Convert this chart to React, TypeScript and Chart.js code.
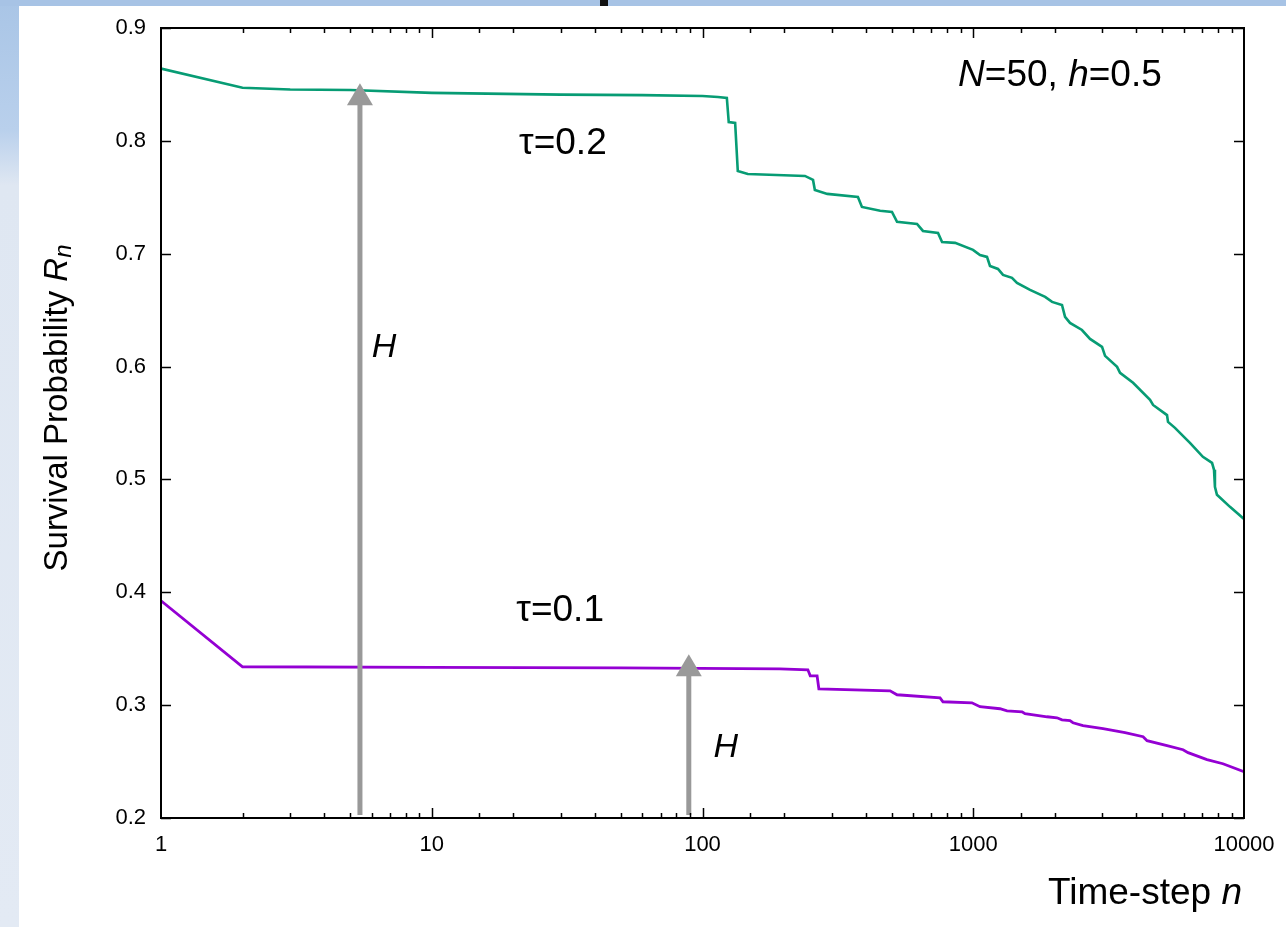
import React, { useEffect, useRef } from 'react';
import { Chart, registerables } from 'chart.js';
Chart.register(...registerables);

// ---- data ----
const tau02N = [1, 2, 3, 5, 10, 30, 60, 100, 114, 123, 125, 132, 135, 147, 239, 256, 260, 289, 375, 388, 453, 501, 523, 620, 652, 741, 767, 857, 998, 1059, 1124, 1153, 1234, 1288, 1390, 1451, 1621, 1843, 1955, 2127, 2183, 2277, 2521, 2700, 2990, 3068, 3398, 3485, 3893, 4497, 4614, 5196, 5240, 5560, 5800, 6315, 7050, 7620, 7750, 7810, 7945, 8875, 10000];
const tau02R = [0.864, 0.847, 0.8455, 0.845, 0.8425, 0.841, 0.8405, 0.8398, 0.8389, 0.838, 0.8167, 0.8159, 0.7733, 0.7707, 0.7689, 0.7654, 0.7565, 0.753, 0.7503, 0.7414, 0.738, 0.737, 0.7282, 0.7264, 0.7202, 0.7184, 0.7104, 0.7096, 0.7034, 0.6989, 0.6972, 0.6892, 0.6865, 0.6812, 0.6786, 0.6741, 0.6679, 0.6617, 0.6573, 0.6546, 0.644, 0.6387, 0.6324, 0.6245, 0.6174, 0.6095, 0.5997, 0.5944, 0.5856, 0.5705, 0.566, 0.557, 0.551, 0.5457, 0.5413, 0.5324, 0.52, 0.5147, 0.5085, 0.4934, 0.4864, 0.4757, 0.465];

const tau01N = [1, 2, 10, 50, 193, 245, 250, 265, 269, 493, 523, 754, 773, 989, 1059, 1255, 1333, 1515, 1553, 1873, 2038, 2127, 2277, 2335, 2543, 3016, 3636, 4240, 4385, 5196, 5955, 6215, 7300, 8360, 10000];
const tau01R = [0.3925, 0.334, 0.3335, 0.333, 0.3322, 0.3313, 0.326, 0.326, 0.3145, 0.3127, 0.3092, 0.3065, 0.303, 0.3021, 0.2986, 0.2968, 0.295, 0.2941, 0.2924, 0.2897, 0.2888, 0.287, 0.2862, 0.2844, 0.2818, 0.2791, 0.2756, 0.272, 0.2685, 0.2641, 0.2605, 0.2579, 0.2517, 0.2481, 0.241];

const xTickLabels = ['1', '10', '100', '1000', '10000'];
const yTickValues = [0.2, 0.3, 0.4, 0.5, 0.6, 0.7, 0.8, 0.9];

// arrows "H"
const arrowN = [5.43, 89];
const arrowTopR = [0.851, 0.345];
const arrowBaseR = 0.2;

// text annotations: [n, R] anchor (centre)
const tauLabels = ['τ=0.2', 'τ=0.1'];
const tauLabelN = [30.5, 29.8];
const tauLabelR = [0.797, 0.3836];
const hLabelN = [6.66, 122];
const hLabelR = [0.6166, 0.2623];
const paramN = 2090;
const paramR = 0.858;

const FONT = '"Liberation Sans", Arial, Helvetica, sans-serif';
const GREEN = '#079c74';
const PURPLE = '#9400d3';
const GRAY = '#999999';

type Seg = { t: string; it?: boolean; sc?: number; dy?: number };

function drawSegs(ctx: CanvasRenderingContext2D, segs: Seg[], size: number, cx: number, cy: number) {
  const fontFor = (s: Seg) => `${s.it ? 'italic ' : ''}${Math.round(size * (s.sc || 1))}px ${FONT}`;
  let total = 0;
  for (const s of segs) { ctx.font = fontFor(s); total += ctx.measureText(s.t).width; }
  let x = cx - total / 2;
  ctx.textBaseline = 'middle';
  ctx.textAlign = 'left';
  for (const s of segs) {
    ctx.font = fontFor(s);
    ctx.fillText(s.t, x, cy + (s.dy || 0));
    x += ctx.measureText(s.t).width;
  }
}

const overlay = {
  id: 'overlay',
  beforeDraw(chart: any) {
    const ctx = chart.ctx as CanvasRenderingContext2D;
    const W = chart.width, H = chart.height;
    ctx.save();
    const g = ctx.createLinearGradient(0, 0, 0, H);
    g.addColorStop(0, '#a9c5e6');
    g.addColorStop(0.14, '#b9d0ec');
    g.addColorStop(0.2, '#dfe7f2');
    g.addColorStop(1, '#e3eaf4');
    ctx.fillStyle = g;
    ctx.fillRect(0, 0, W, H);
    ctx.fillStyle = '#a7c3e5';
    ctx.fillRect(0, 0, W, 6);
    ctx.fillStyle = '#ffffff';
    ctx.fillRect(19, 6, W - 19, H - 6);
    ctx.fillStyle = '#111111';
    ctx.fillRect(600, 0, 8, 6);
    ctx.restore();
  },
  afterDatasetsDraw(chart: any) {
    const ctx = chart.ctx as CanvasRenderingContext2D;
    const xs = chart.scales.x, ys = chart.scales.y;
    const { left, right, top, bottom } = chart.chartArea;
    ctx.save();
    // arrows
    for (let i = 0; i < arrowN.length; i++) {
      const x = xs.getPixelForValue(arrowN[i]);
      const yTop = ys.getPixelForValue(arrowTopR[i]);
      const yBase = ys.getPixelForValue(arrowBaseR) - 3;
      const headH = 22, headW = 26;
      ctx.strokeStyle = GRAY;
      ctx.lineWidth = 5;
      ctx.beginPath();
      ctx.moveTo(x, yBase);
      ctx.lineTo(x, yTop + headH - 1);
      ctx.stroke();
      ctx.fillStyle = GRAY;
      ctx.beginPath();
      ctx.moveTo(x, yTop);
      ctx.lineTo(x - headW / 2, yTop + headH);
      ctx.lineTo(x + headW / 2, yTop + headH);
      ctx.closePath();
      ctx.fill();
    }
    // frame
    ctx.strokeStyle = '#000';
    ctx.lineWidth = 2;
    ctx.strokeRect(left, top, right - left, bottom - top);
    // ticks
    ctx.lineWidth = 1.5;
    ctx.beginPath();
    for (const t of xs.ticks) {
      const v = t.value;
      const lg = Math.log10(v);
      const major = Math.abs(lg - Math.round(lg)) < 1e-9;
      const len = major ? 10 : 5;
      const px = Math.round(xs.getPixelForValue(v)) + 0.5;
      if (px <= left + 1 || px >= right - 1) continue;
      ctx.moveTo(px, bottom);
      ctx.lineTo(px, bottom - len);
      ctx.moveTo(px, top);
      ctx.lineTo(px, top + len);
    }
    for (const v of yTickValues) {
      const py = Math.round(ys.getPixelForValue(v)) + 0.5;
      ctx.moveTo(left, py);
      ctx.lineTo(left + 10, py);
      ctx.moveTo(right, py);
      ctx.lineTo(right - 10, py);
    }
    ctx.stroke();
    // annotations
    ctx.fillStyle = '#000';
    for (let i = 0; i < tauLabels.length; i++) {
      drawSegs(ctx, [{ t: tauLabels[i] }], 37, xs.getPixelForValue(tauLabelN[i]), ys.getPixelForValue(tauLabelR[i]));
    }
    for (let i = 0; i < hLabelN.length; i++) {
      drawSegs(ctx, [{ t: 'H', it: true }], 34, xs.getPixelForValue(hLabelN[i]), ys.getPixelForValue(hLabelR[i]));
    }
    drawSegs(ctx, [{ t: 'N', it: true }, { t: '=50, ' }, { t: 'h', it: true }, { t: '=0.5' }], 37,
      xs.getPixelForValue(paramN), ys.getPixelForValue(paramR));
    // axis titles
    drawSegs(ctx, [{ t: 'Time-step ' }, { t: 'n', it: true }], 37, 1145, 894);
    ctx.translate(58, 408);
    ctx.rotate(-Math.PI / 2);
    drawSegs(ctx, [{ t: 'Survival Probability ' }, { t: 'R', it: true }, { t: 'n', it: true, sc: 0.72, dy: 6 }], 33, 0, 0);
    ctx.restore();
  },
};

export default function App() {
  const ref = useRef<HTMLCanvasElement>(null);
  useEffect(() => {
    if (!ref.current) return;
    const chart = new Chart(ref.current, {
      type: 'line',
      data: {
        datasets: [
          {
            label: 'τ=0.2',
            data: tau02N.map((n, i) => ({ x: n, y: tau02R[i] })),
            borderColor: GREEN,
            borderWidth: 2.6,
            pointRadius: 0,
            tension: 0,
          },
          {
            label: 'τ=0.1',
            data: tau01N.map((n, i) => ({ x: n, y: tau01R[i] })),
            borderColor: PURPLE,
            borderWidth: 2.8,
            pointRadius: 0,
            tension: 0,
          },
        ],
      },
      options: {
        responsive: false,
        animation: false,
        layout: { padding: { left: 0, top: 28, right: 42, bottom: 0 } },
        plugins: { legend: { display: false }, tooltip: { enabled: false } },
        scales: {
          x: {
            type: 'logarithmic',
            min: 1,
            max: 10000,
            grid: { display: false, drawTicks: false },
            border: { display: false },
            afterFit: (s: any) => { s.height = 109; s.paddingRight = 0; s.paddingLeft = 0; },
            ticks: {
              autoSkip: false,
              maxRotation: 0,
              padding: 14,
              color: '#000',
              font: { family: FONT, size: 22 },
              callback: (v: any) => {
                const s = String(Number(v));
                return xTickLabels.includes(s) ? s : '';
              },
            },
          },
          y: {
            type: 'linear',
            min: 0.2,
            max: 0.9,
            grid: { display: false, drawTicks: false },
            border: { display: false },
            afterFit: (s: any) => { s.width = 161; s.paddingTop = 0; s.paddingBottom = 0; },
            afterBuildTicks: (s: any) => { s.ticks = yTickValues.map((v) => ({ value: v })); },
            ticks: {
              padding: 15,
              color: '#000',
              font: { family: FONT, size: 22 },
              callback: (v: any) => Number(v).toFixed(1),
            },
          },
        },
      },
      plugins: [overlay],
    });
    return () => chart.destroy();
  }, []);
  return (
    <div style={{ position: 'absolute', left: 0, top: 0, width: 1286, height: 927 }}>
      <canvas ref={ref} width={1286} height={927} style={{ display: 'block' }} />
    </div>
  );
}
